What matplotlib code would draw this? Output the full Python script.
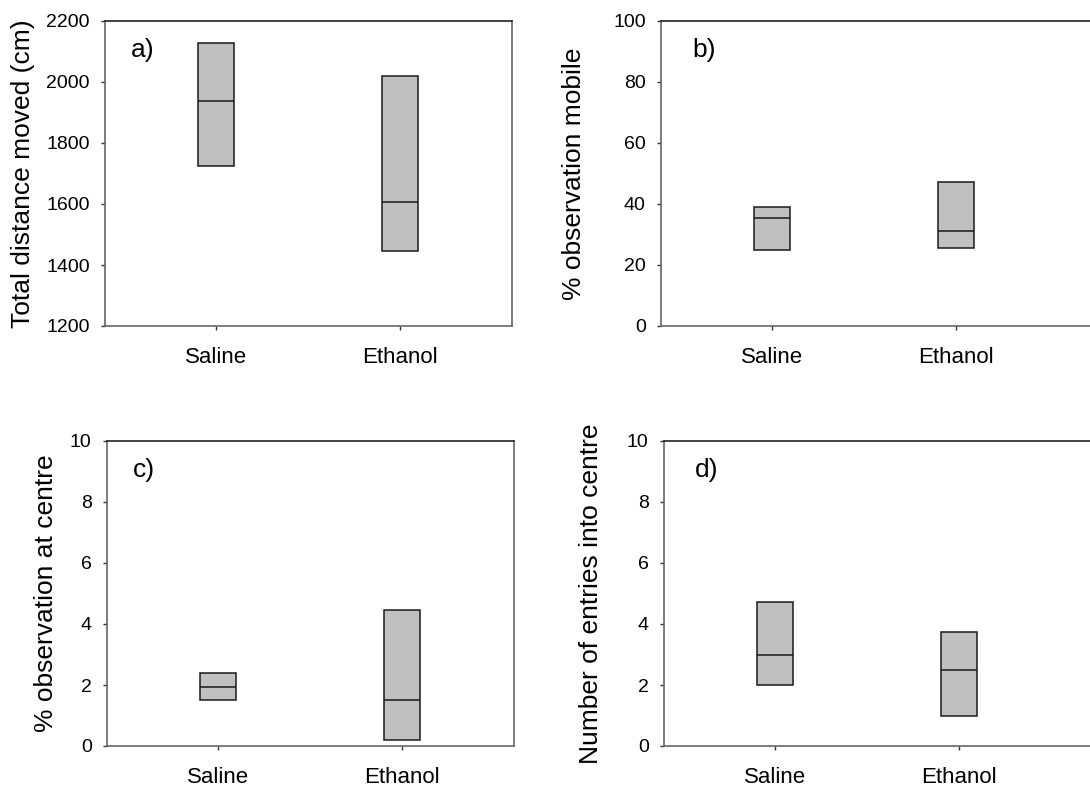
import matplotlib
matplotlib.use("Agg")
import matplotlib.pyplot as plt

plt.rcParams['font.family'] = ['Liberation Sans', 'DejaVu Sans']

groups = ["Saline", "Ethanol"]

# (q1, median, q3) per group
dist_q1 = [1725, 1447]
dist_med = [1938, 1606]
dist_q3 = [2127, 2020]

mob_q1 = [24.8, 25.6]
mob_med = [35.3, 31.3]
mob_q3 = [39.0, 47.3]

ctr_q1 = [1.50, 0.19]
ctr_med = [1.95, 1.50]
ctr_q3 = [2.39, 4.46]

ent_q1 = [2.0, 1.0]
ent_med = [3.0, 2.5]
ent_q3 = [4.73, 3.73]

panels = [
    dict(q1=dist_q1, med=dist_med, q3=dist_q3, ylim=(1200, 2200), ticks=[1200, 1400, 1600, 1800, 2000, 2200],
         ylabel="Total distance moved (cm)", tag="a)"),
    dict(q1=mob_q1, med=mob_med, q3=mob_q3, ylim=(0, 100), ticks=[0, 20, 40, 60, 80, 100],
         ylabel="% observation mobile", tag="b)"),
    dict(q1=ctr_q1, med=ctr_med, q3=ctr_q3, ylim=(0, 10), ticks=[0, 2, 4, 6, 8, 10],
         ylabel="% observation at centre", tag="c)"),
    dict(q1=ent_q1, med=ent_med, q3=ent_q3, ylim=(0, 10), ticks=[0, 2, 4, 6, 8, 10],
         ylabel="Number of entries into centre", tag="d)"),
]

W, H = 1090, 787
fig = plt.figure(figsize=(W / 100, H / 100), dpi=100)

# axes rectangles in pixels: left, top, right, bottom
rects_px = [
    (105, 21, 512, 326),
    (661, 21, 1150, 326),
    (107, 441, 514, 746),
    (664, 441, 1153, 746),
]
label_x = [-0.2015, -0.177, -0.15, -0.149]
px_per_unit = 184.0
x0 = 0.397

for p, (l, t, r, b), lx in zip(panels, rects_px, label_x):
    ax = fig.add_axes([l / W, 1 - b / H, (r - l) / W, (b - t) / H])
    stats = []
    for g, q1, md, q3 in zip(groups, p['q1'], p['med'], p['q3']):
        stats.append(dict(label=g, q1=q1, med=md, q3=q3, whislo=q1, whishi=q3, fliers=[]))
    ax.bxp(stats, positions=[1, 2], widths=0.2, showcaps=False, showfliers=False,
           patch_artist=True,
           boxprops=dict(facecolor='#c0c0c0', edgecolor='#1a1a1a', linewidth=1.1),
           medianprops=dict(color='#1a1a1a', linewidth=1.1),
           whiskerprops=dict(linewidth=0))
    ax.set_xlim(x0, x0 + (r - l) / px_per_unit)
    ax.set_ylim(*p['ylim'])
    ax.set_yticks(p['ticks'])
    ax.set_xticks([1, 2])
    ax.set_xticklabels(groups)
    ax.tick_params(axis='y', direction='out', length=3, width=1, labelsize=14, pad=8, color='#333333')
    ax.tick_params(axis='x', direction='out', length=3, width=1, labelsize=16, pad=12, color='#333333')
    for s in ['left', 'bottom', 'right']:
        ax.spines[s].set_color('#666666')
        ax.spines[s].set_linewidth(1.2)
    ax.spines['top'].set_color('#222222')
    ax.spines['top'].set_linewidth(1.2)
    ax.set_ylabel(p['ylabel'], fontsize=19, va='center')
    ax.yaxis.set_label_coords(lx, 0.5)
    ax.text(26 / 407, 0.905, p['tag'], transform=ax.transAxes, fontsize=19, va='center', ha='left')

fig.savefig("out.png", dpi=100)
